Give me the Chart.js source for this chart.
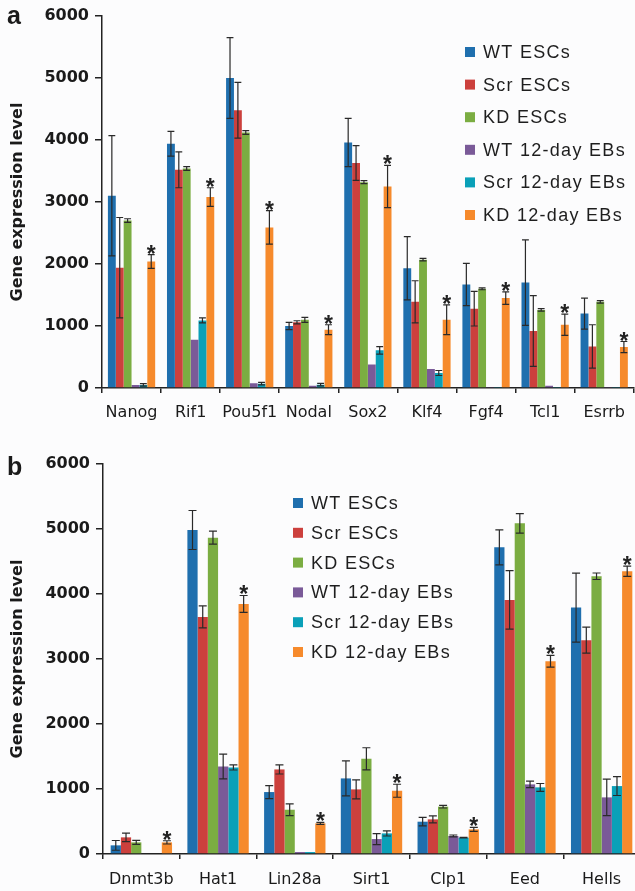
<!DOCTYPE html>
<html>
<head>
<meta charset="utf-8">
<script src="https://cdn.jsdelivr.net/npm/chart.js@4.4.0/dist/chart.umd.min.js"></script>
<style>
html, body { margin: 0; padding: 0; background: #fcfcfd; overflow: hidden; width: 635px; height: 891px; }
#boxA { position: absolute; left: 0; top: 0; width: 635px; height: 440px; }
#boxB { position: absolute; left: 0; top: 440px; width: 645px; height: 451px; }
</style>
</head>
<body>
<div id="boxA"><canvas id="chartA"></canvas></div>
<div id="boxB"><canvas id="chartB"></canvas></div>
<script>
// Series names
const seriesNames = ['WT ESCs', 'Scr ESCs', 'KD ESCs', 'WT 12-day EBs', 'Scr 12-day EBs', 'KD 12-day EBs'];
const seriesColors = ['#1f6fae', '#cc403d', '#7bad42', '#7a5a98', '#0aa0b8', '#f68a2c'];
const yTicks = [0, 1000, 2000, 3000, 4000, 5000, 6000];

// Panel a
const genesA = ['Nanog', 'Rif1', 'Pou5f1', 'Nodal', 'Sox2', 'Klf4', 'Fgf4', 'Tcl1', 'Esrrb'];
const wtEscA     = [3100, 3940, 5000, 1000, 3960, 1930, 1670, 1700, 1200];
const wtEscAErr  = [970, 200, 650, 60, 390, 510, 340, 690, 250];
const scrEscA    = [1940, 3520, 4480, 1060, 3630, 1390, 1280, 920, 670];
const scrEscAErr = [810, 290, 450, 25, 280, 340, 280, 570, 350];
const kdEscA     = [2700, 3540, 4120, 1100, 3320, 2070, 1600, 1260, 1390];
const kdEscAErr  = [30, 30, 30, 40, 25, 20, 15, 20, 20];
const wtEbA      = [50, 780, 75, 38, 380, 306, 8, 38, 8];
const wtEbAErr   = [0, 0, 0, 0, 0, 0, 0, 0, 0];
const scrEbA     = [50, 1090, 70, 54, 607, 242, 8, 8, 8];
const scrEbAErr  = [20, 40, 20, 20, 60, 40, 0, 0, 0];
const kdEbA      = [2040, 3080, 2590, 940, 3250, 1100, 1450, 1020, 660];
const kdEbAErr   = [110, 150, 270, 80, 340, 240, 100, 170, 90];
const starsA     = [1, 1, 1, 1, 1, 1, 1, 1, 1];

// Panel b
const genesB = ['Dnmt3b', 'Hat1', 'Lin28a', 'Sirt1', 'Clp1', 'Eed', 'Hells'];
const wtEscB     = [133, 4985, 953, 1163, 497, 4718, 3791];
const wtEscBErr  = [75, 300, 100, 270, 65, 270, 530];
const scrEscB    = [256, 3648, 1301, 994, 533, 3909, 3289];
const scrEscBErr = [65, 170, 70, 145, 55, 450, 200];
const kdEscB     = [179, 4867, 681, 1465, 728, 5087, 4273];
const kdEscBErr  = [30, 100, 90, 170, 20, 150, 50];
const wtEbB      = [12, 1347, 30, 230, 277, 1071, 871];
const wtEbBErr   = [0, 190, 0, 85, 15, 50, 280];
const scrEbB     = [12, 1332, 30, 317, 251, 1025, 1045];
const scrEbBErr  = [0, 40, 0, 40, 5, 60, 145];
const kdEbB      = [179, 3847, 471, 973, 379, 2966, 4350];
const kdEbBErr   = [25, 130, 15, 100, 30, 90, 80];
const starsB     = [1, 1, 1, 1, 1, 1, 1];

// error bars drawn from dataset.errors
const errorBarPlugin = {
    id: 'errorBars',
    afterDatasetsDraw(chart) {
        const ctx = chart.ctx;
        const y = chart.scales.y;
        ctx.save();
        ctx.strokeStyle = '#2a2a2a';
        ctx.lineWidth = 1.2;
        chart.data.datasets.forEach((ds, i) => {
            const meta = chart.getDatasetMeta(i);
            meta.data.forEach((bar, j) => {
                const e = ds.errors[j];
                if (!e) return;
                const v = ds.data[j];
                const yt = y.getPixelForValue(v + e);
                const yb = y.getPixelForValue(Math.max(v - e, 0));
                const hw = Math.min(bar.width / 2 - 0.5, 4);
                ctx.beginPath();
                ctx.moveTo(bar.x, yt); ctx.lineTo(bar.x, yb);
                ctx.moveTo(bar.x - hw, yt); ctx.lineTo(bar.x + hw, yt);
                ctx.moveTo(bar.x - hw, yb); ctx.lineTo(bar.x + hw, yb);
                ctx.stroke();
            });
        });
        ctx.restore();
    }
};

// asterisks above the bars flagged in dataset.stars
const starPlugin = {
    id: 'stars',
    afterDatasetsDraw(chart) {
        const ctx = chart.ctx;
        const y = chart.scales.y;
        ctx.save();
        ctx.fillStyle = '#222';
        ctx.font = 'bold 23px "Liberation Sans"';
        ctx.textAlign = 'center';
        ctx.textBaseline = 'alphabetic';
        chart.data.datasets.forEach((ds, i) => {
            if (!ds.stars) return;
            const meta = chart.getDatasetMeta(i);
            meta.data.forEach((bar, j) => {
                if (!ds.stars[j]) return;
                const top = y.getPixelForValue(ds.data[j] + (ds.errors[j] || 0));
                ctx.fillText('*', bar.x, top + 7);
            });
        });
        ctx.restore();
    }
};

// legend with square markers inside the plot
const boxLegendPlugin = {
    id: 'boxLegend',
    afterDraw(chart, args, opts) {
        const ctx = chart.ctx;
        ctx.save();
        ctx.font = opts.font;
        ctx.letterSpacing = opts.spacing;
        ctx.textBaseline = 'middle';
        chart.data.datasets.forEach((ds, i) => {
            const yy = opts.y + i * opts.step;
            ctx.fillStyle = ds.backgroundColor;
            ctx.fillRect(opts.x, yy - 5, 10, 10);
            ctx.fillStyle = '#1e1e1e';
            ctx.fillText(ds.label, opts.x + 18, yy + 1);
        });
        ctx.restore();
    }
};

// panel letter
const panelLetterPlugin = {
    id: 'panelLetter',
    afterDraw(chart, args, opts) {
        const ctx = chart.ctx;
        ctx.save();
        ctx.font = 'bold 25px "Liberation Sans"';
        ctx.fillStyle = '#1a1a1a';
        ctx.textBaseline = 'alphabetic';
        ctx.fillText(opts.text, opts.x, opts.y);
        ctx.restore();
    }
};

function buildDatasets(values, errors, stars) {
    return seriesNames.map((name, i) => ({
        label: name,
        data: values[i],
        errors: errors[i],
        stars: i === 5 ? stars : null,
        backgroundColor: seriesColors[i],
        borderWidth: 0,
        barPercentage: 1.0,
        categoryPercentage: 0.8
    }));
}

function crearPanel(id, genes, values, errors, stars, cfg) {
    const ctx = document.getElementById(id).getContext('2d');
    new Chart(ctx, {
        type: 'bar',
        data: {
            labels: genes,
            datasets: buildDatasets(values, errors, stars)
        },
        options: {
            responsive: true,
            maintainAspectRatio: false,
            animation: false,
            layout: { padding: { top: cfg.top, left: 0, right: cfg.right, bottom: 0 } },
            plugins: {
                legend: { display: false },
                tooltip: { enabled: false },
                boxLegend: cfg.legend,
                panelLetter: cfg.letter
            },
            scales: {
                x: {
                    grid: { display: true, drawOnChartArea: false, drawTicks: true, tickLength: 5, color: '#222', lineWidth: 1.5 },
                    border: { display: true, color: '#222', width: 1.5 },
                    ticks: { color: '#1a1a1a', font: { family: 'DejaVu Sans', size: 16 }, padding: cfg.xPad, maxRotation: 0, autoSkip: false },
                    afterFit: s => { s.height = cfg.xHeight; }
                },
                y: {
                    min: 0,
                    max: 6000,
                    afterBuildTicks: s => { s.ticks = yTicks.map(v => ({ value: v })); },
                    grid: { display: true, drawOnChartArea: false, drawTicks: true, tickLength: 7, color: '#222', lineWidth: 1.5 },
                    border: { display: true, color: '#222', width: 1.5 },
                    ticks: { color: '#1a1a1a', font: { family: 'DejaVu Sans', size: 16, weight: 'bold' }, padding: 6, callback: v => String(v) },
                    title: { display: true, text: 'Gene expression level', color: '#1a1a1a', font: { family: 'DejaVu Sans', size: 16, weight: 'bold' }, padding: { top: 8, bottom: 0 } },
                    afterFit: s => { s.width = cfg.yWidth; }
                }
            }
        },
        plugins: [errorBarPlugin, starPlugin, boxLegendPlugin, panelLetterPlugin]
    });
}

crearPanel('chartA', genesA,
    [wtEscA, scrEscA, kdEscA, wtEbA, scrEbA, kdEbA],
    [wtEscAErr, scrEscAErr, kdEscAErr, wtEbAErr, scrEbAErr, kdEbAErr],
    starsA,
    { top: 16, right: 1, xHeight: 52, yWidth: 102, xPad: 10,
      legend: { x: 465, y: 52, step: 32.6, font: '18px "Liberation Sans"', spacing: '1.3px' },
      letter: { text: 'a', x: 7, y: 24 } });

crearPanel('chartB', genesB,
    [wtEscB, scrEscB, kdEscB, wtEbB, scrEbB, kdEbB],
    [wtEscBErr, scrEscBErr, kdEscBErr, wtEbBErr, scrEbBErr, kdEbBErr],
    starsB,
    { top: 24, right: 5, xHeight: 37, yWidth: 103, xPad: 11,
      legend: { x: 293, y: 63, step: 29.8, font: '18px "Liberation Sans"', spacing: '1.3px' },
      letter: { text: 'b', x: 7, y: 35 } });
</script>
</body>
</html>
